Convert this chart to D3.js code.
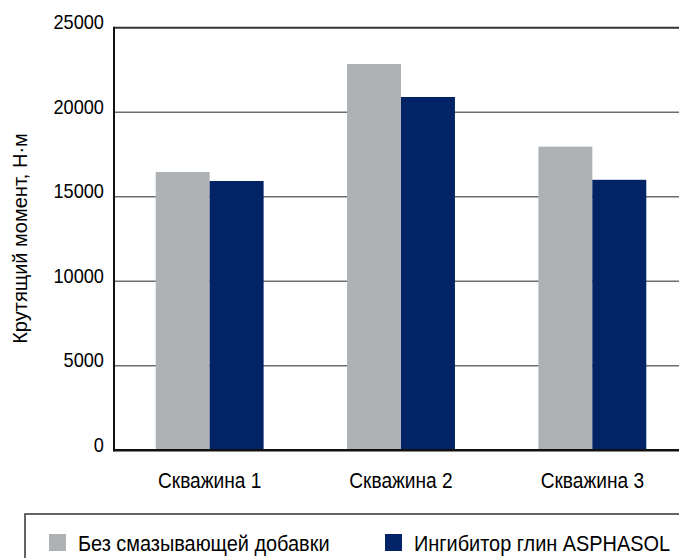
<!DOCTYPE html>
<html><head><meta charset="utf-8">
<script src="https://cdn.jsdelivr.net/npm/d3@7"></script>
<style>
html,body{margin:0;padding:0;background:#fff;}
svg text{font-family:"Liberation Sans",Arial,sans-serif;fill:#000;}
</style></head>
<body>
<svg id="chart" width="679" height="558"></svg>
<script>
const categories = ["Скважина 1", "Скважина 2", "Скважина 3"];
const seriesNames = ["Без смазывающей добавки", "Ингибитор глин ASPHASOL"];
const seriesNoAdditive = [16460, 22850, 17960];
const seriesAsphasol = [15930, 20900, 16000];
const yTicks = [0, 5000, 10000, 15000, 20000, 25000];
const colors = ["#afb2b5", "#022366"];
const yTitle = "Крутящий момент, Н·м";

(function () {
const svg = d3.select("#chart");
const pLeft = 114, pRight = 688, pTop = 27.7, pBottom = 450.2;
const condense = 0.89;

const x0 = d3.scaleBand().domain(categories).range([pLeft, pRight]).paddingInner(0.436).paddingOuter(0.218);
const x1 = d3.scaleBand().domain(seriesNames).range([0, x0.bandwidth()]).padding(0);
const y = d3.scaleLinear().domain([0, 25000]).range([pBottom, pTop]);

// gridlines
svg.append("g").selectAll("line").data(yTicks.filter(d => d > 0 && d < 25000)).join("line")
  .attr("x1", pLeft).attr("x2", 679).attr("y1", d => y(d)).attr("y2", d => y(d))
  .attr("stroke", "#6e6e6e").attr("stroke-width", 1.6);
// top line
svg.append("line").attr("x1", pLeft).attr("x2", 679).attr("y1", y(25000)).attr("y2", y(25000))
  .attr("stroke", "#333").attr("stroke-width", 2);

// bars
const data = categories.map((c, i) => ({cat: c, vals: [seriesNoAdditive[i], seriesAsphasol[i]]}));
svg.append("g").selectAll("g").data(data).join("g")
  .attr("transform", d => `translate(${x0(d.cat)},0)`)
  .selectAll("rect").data(d => d.vals.map((v, j) => ({s: seriesNames[j], v, j}))).join("rect")
  .attr("x", d => x1(d.s)).attr("width", x1.bandwidth())
  .attr("y", d => y(d.v)).attr("height", d => y(0) - y(d.v))
  .attr("fill", d => colors[d.j]);

// y axis
const yAxis = d3.axisLeft(y).tickValues(yTicks).tickSize(0).tickFormat(d3.format("d"));
const gy = svg.append("g").attr("transform", `translate(${pLeft},0)`).call(yAxis);
gy.select(".domain").remove();
gy.selectAll("text").attr("font-size", 20).attr("x", -11).attr("dy", "0.05em")
  .attr("transform", "scale(0.91,1)")
  .style("font-family", '"Liberation Sans",Arial,sans-serif').attr("fill", "#000");
svg.append("line").attr("x1", pLeft).attr("x2", pLeft).attr("y1", pTop - 1).attr("y2", pBottom + 1)
  .attr("stroke", "#111").attr("stroke-width", 2);

// x axis
const xAxis = d3.axisBottom(x0).tickSize(0);
const gx = svg.append("g").attr("transform", `translate(0,${pBottom})`).call(xAxis);
gx.select(".domain").remove();
gx.selectAll("text").attr("font-size", 21.5).attr("y", 38).attr("dy", 0)
  .attr("transform", `scale(${condense},1)`)
  .style("font-family", '"Liberation Sans",Arial,sans-serif').attr("fill", "#000");
svg.append("line").attr("x1", pLeft - 1).attr("x2", 679).attr("y1", pBottom).attr("y2", pBottom)
  .attr("stroke", "#111").attr("stroke-width", 2.5);

// y title
svg.append("text").attr("transform", `translate(27,238.5) rotate(-90)`)
  .attr("text-anchor", "middle").attr("font-size", 20).text(yTitle);

// legend
svg.append("rect").attr("x", 25).attr("y", 514).attr("width", 700).attr("height", 100)
  .attr("fill", "none").attr("stroke", "#333").attr("stroke-width", 1.5);
const legendX = [49, 385];
const lg = svg.append("g").selectAll("g").data(seriesNames).join("g")
  .attr("transform", (d, i) => `translate(${legendX[i]},534)`);
lg.append("rect").attr("width", 17).attr("height", 17).attr("fill", (d, i) => colors[i]);
lg.append("text").attr("transform", `translate(29,17) scale(0.905,1)`)
  .attr("font-size", 22).text(d => d);
})();
</script>
</body></html>
